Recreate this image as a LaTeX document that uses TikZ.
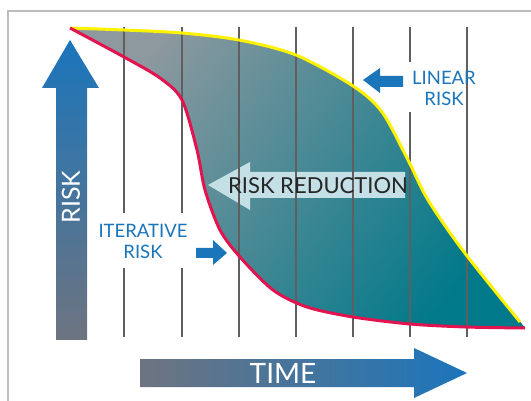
\documentclass[tikz,border=0pt]{standalone}
\usepackage{fontspec}
\setmainfont{Lato}
\usetikzlibrary{positioning}
\definecolor{riskblue}{HTML}{1B75BB}
\definecolor{riskgrey}{HTML}{6D7480}
\definecolor{fillgrey}{HTML}{8E999F}
\definecolor{fillteal}{HTML}{00798A}
\definecolor{iterred}{HTML}{E2134F}
\definecolor{linyellow}{HTML}{FFF200}
\definecolor{reduction}{HTML}{C4DFE5}
\definecolor{gridgrey}{HTML}{5F5F5F}
\definecolor{framegrey}{HTML}{BDBDBD}
\tikzset{
  gridline/.style={draw=gridgrey,line width=1.6pt},
  curve/.style={line width=3pt,line join=round},
  bluelabel/.style={text=riskblue,font=\fontsize{18.5}{21}\selectfont,align=center,inner sep=0pt},
  smallarrow/.style={fill=riskblue},
}
\begin{document}
\begin{tikzpicture}[x=1pt,y=-1pt]
\useasboundingbox[fill=white] (0,0) rectangle (531,401);
\draw[framegrey,line width=1.2pt] (8,401) -- (8,11) -- (531,11);
\fill[left color=fillgrey,right color=fillteal,shading angle=55]
  plot[smooth] coordinates {(70,28) (124,30) (182,33) (239,40) (296,55) (353,86) (382,112) (408,160) (428,200) (464,252) (520,322)}
  -- plot[smooth] coordinates {(525,328) (466,327) (410,324) (353,317) (307,307) (273,290) (240,257) (220,230) (205,190) (197,150) (182,100) (160,78) (124,57) (70,28)}
  -- cycle;
\fill[reduction] (405,172) -- (250,172) -- (250,162) -- (208,185) -- (250,210) -- (250,198) -- (405,198) -- cycle;
\draw[gridline] (124,27) -- (124,213);
\draw[gridline] (124,268) -- (124,337);
\draw[gridline] (182,27) -- (182,213);
\draw[gridline] (182,268) -- (182,337);
\draw[gridline] (239,27) -- (239,337);
\draw[gridline] (296,27) -- (296,337);
\draw[gridline] (353,27) -- (353,337);
\draw[gridline] (410,27) -- (410,62);
\draw[gridline] (410,112) -- (410,337);
\draw[gridline] (467,27) -- (467,337);
\draw[curve,linyellow] plot[smooth] coordinates {(70,28) (124,30) (182,33) (239,40) (296,55) (353,86) (382,112) (408,160) (428,200) (464,252) (520,322)};
\draw[curve,iterred] plot[smooth] coordinates {(70,28) (124,57) (160,78) (182,100) (197,150) (205,190) (220,230) (240,257) (273,290) (307,307) (353,317) (410,324) (466,327) (525,328)};
\shade[top color=riskblue,middle color=riskblue!75!riskgrey,bottom color=riskgrey] (56,340) -- (56,88) -- (42,88) -- (70,40) -- (99,88) -- (87,88) -- (87,340) -- cycle;
\shade[left color=riskgrey,right color=riskblue] (140,359) -- (414,359) -- (414,348) -- (467,373) -- (414,398) -- (414,387) -- (140,387) -- cycle;
\fill[smallarrow] (403,76) -- (380,76) -- (380,68) -- (363,80) -- (380,93) -- (380,87) -- (403,87) -- cycle;
\fill[smallarrow] (196,248) -- (213,248) -- (213,240) -- (227,253) -- (213,265) -- (213,258) -- (196,258) -- cycle;
\node[text=black!85,font=\fontsize{22}{24}\selectfont,inner sep=0pt] (reductiontext) at (318,186) {RISK REDUCTION};
\node[text=white,font=\fontsize{28}{30}\selectfont,inner sep=0pt] (timetext) at (283,373) {TIME};
\node[text=white,font=\fontsize{25}{27}\selectfont,inner sep=0pt,rotate=90] (risktext) at (71,197) {RISK};
\node[bluelabel] (linear) at (444,88) {LINEAR\\RISK};
\node[bluelabel] (iterative) at (143,241) {ITERATIVE\\RISK};
\end{tikzpicture}
\end{document}
